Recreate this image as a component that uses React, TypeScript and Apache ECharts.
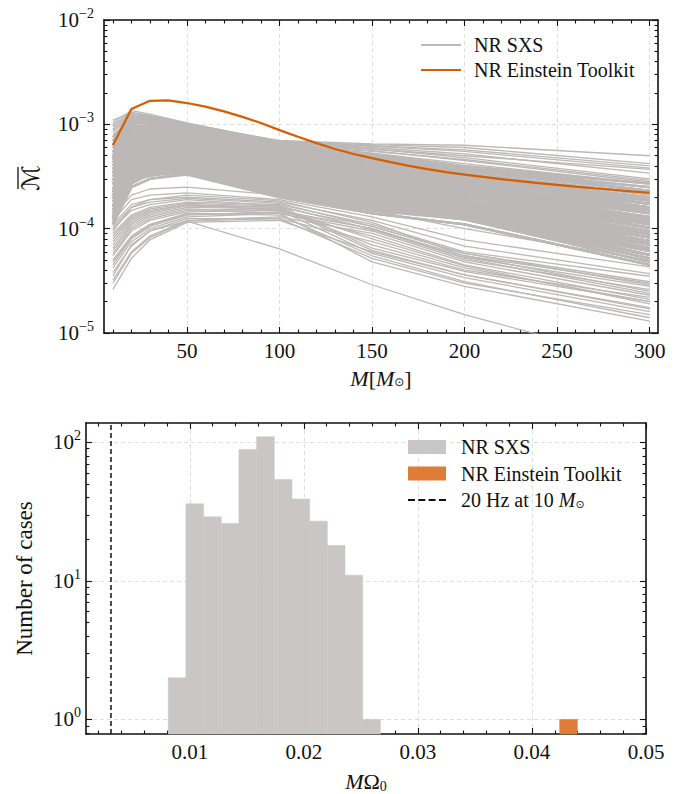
import React, { useEffect, useRef } from "react";
import * as echarts from "echarts";

// ---------- top panel data ----------
const massGrid = [10, 20, 30, 50, 100, 150, 200, 300];
const sxsUnit = 1e-5;
// NR SXS mismatch curves (units of 1e-5), values at massGrid
const sxsUpper: number[][] = [
  [95, 125, 120, 100, 70, 65, 63, 50],
  [90, 120, 115, 95, 68, 64, 60, 42],
  [85, 115, 112, 92, 66, 62, 57, 40],
  [100, 130, 122, 102, 69, 62, 55, 38],
  [80, 112, 108, 90, 64, 58, 50, 37],
  [105, 135, 125, 103, 68, 58, 48, 30],
  [110, 128, 118, 98, 66, 56, 45, 28],
  [70, 110, 110, 92, 63, 55, 46, 29],
  [88, 122, 116, 97, 64, 53, 42, 27],
  [95, 126, 119, 101, 67, 60, 52, 34],
];
const sxsCore: number[][] = [
  [75, 118, 115, 100, 65, 52, 40, 27],
  [69, 111, 109, 95, 59, 47, 36, 23],
  [64, 118, 109, 95, 62, 47, 34, 21.5],
  [64, 104, 103, 91, 59, 47, 36, 25],
  [59, 104, 103, 87, 56, 42, 32, 18.5],
  [54, 97, 97, 91, 59, 44.5, 32, 17.3],
  [54, 91, 92, 83, 53, 42, 32, 20],
  [50, 91, 87, 83, 50, 40, 29, 17.3],
  [46, 85, 92, 79, 48, 37.5, 29, 16],
  [46, 80, 82, 76, 48, 37.5, 29, 17.3],
  [43, 80, 82, 72, 46, 33.5, 26, 15],
  [40, 75, 78, 76, 48, 35.5, 27.5, 14],
  [40, 70, 73.5, 69, 44, 33.5, 26, 15],
  [37, 70, 70, 66, 44, 33.5, 27.5, 17.3],
  [34, 66, 73.5, 69, 42, 30, 23.4, 12],
  [34, 62, 66, 63, 40, 30, 23.4, 12.8],
  [31.5, 62, 62.5, 63, 38, 27, 21, 11],
  [29, 58, 66, 60, 40, 30, 24.7, 15],
  [29, 54, 59, 57, 36, 27, 21, 11],
  [26.5, 54, 56, 57, 34.5, 24, 18.8, 8.8],
  [24, 51, 59, 54.5, 36, 27, 22, 12.8],
  [24, 48, 52.5, 52, 33, 24, 18.8, 9.5],
  [22.5, 48, 50, 52, 31.5, 21.7, 17, 7.6],
  [21, 45, 52.5, 50, 33, 24, 20, 11],
  [21, 42, 47, 48, 30, 21.7, 17, 8.2],
  [19.5, 42, 44.5, 48, 28.5, 20.5, 16, 6.5],
  [18, 39.5, 47, 46, 30, 21.7, 18, 9.5],
  [18, 37, 42, 43.5, 27, 19.5, 15.2, 7],
  [16.5, 37, 40, 43.5, 25.5, 17.4, 13.6, 5.6],
  [15, 34.5, 42, 42, 27, 19.5, 16, 8.2],
  [15, 32, 37.5, 40, 24, 17.4, 13.6, 6.1],
  [14, 32, 35.5, 40, 23, 15.6, 12.3, 4.8],
  [13, 30, 37.5, 38, 24, 17.4, 14.4, 7],
  [13, 28.5, 33.5, 36, 22, 15.6, 12.3, 5.2],
  [12, 28.5, 32, 36, 21, 14, 11, 4.5],
  [11, 27, 33.5, 34.5, 22, 15.6, 13, 6.1],
  [11, 25, 30, 33, 20, 14, 11, 4.5],
  [64, 104, 109, 100, 65, 49.5, 38, 23],
  [75, 111, 103, 87, 53, 40, 29, 16],
  [54, 104, 103, 91, 62, 49.5, 38, 27],
  [46, 91, 97, 87, 56, 44.5, 34, 21.5],
  [40, 80, 87, 79, 50, 37.5, 29, 17.3],
  [34, 70, 78, 72, 46, 33.5, 24.7, 12.8],
  [29, 62, 70, 66, 42, 32, 24.7, 14],
  [24, 54, 62.5, 60, 38, 28.5, 22, 12],
  [21, 48, 56, 54.5, 34.5, 25.5, 20, 10.2],
  [18, 42, 50, 50, 31.5, 23, 18, 8.8],
  [15, 37, 44.5, 46, 28.5, 20.5, 16, 7.6],
  [13, 32, 40, 42, 25.5, 18.5, 14.4, 6.5],
  [11, 28.5, 35.5, 38, 23, 16.5, 13, 5.6],
  [59, 111, 103, 83, 50, 40, 32, 21.5],
  [50, 97, 92, 76, 46, 35.5, 29, 18.5],
  [43, 85, 82, 69, 42, 32, 26, 16],
  [37, 75, 73.5, 63, 38, 28.5, 23.4, 14],
  [31.5, 66, 66, 57, 34.5, 25.5, 21, 12],
  [26.5, 58, 59, 52, 31.5, 23, 18.8, 10.2],
  [22.5, 51, 52.5, 48, 28.5, 20.5, 17, 8.8],
  [19.5, 45, 47, 43.5, 25.5, 18.5, 15.2, 7.6],
  [16.5, 39.5, 42, 40, 23, 16.5, 13.6, 6.5],
  [14, 34.5, 37.5, 36, 21, 14.8, 12.3, 5.6],
  [69, 111, 103, 87, 56, 42, 30.5, 17.3],
  [59, 104, 103, 91, 56, 44.5, 34, 21.5],
  [50, 91, 97, 87, 56, 44.5, 36, 23],
  [43, 85, 87, 79, 50, 37.5, 29, 16],
  [37, 75, 82, 76, 48, 37.5, 30.5, 20],
  [31.5, 66, 73.5, 72, 46, 33.5, 24.7, 12.8],
  [26.5, 58, 66, 66, 42, 32, 26, 16],
  [22.5, 51, 59, 60, 38, 27, 20, 10.2],
  [19.5, 45, 52.5, 54.5, 34.5, 25.5, 22, 12],
  [16.5, 39.5, 47, 50, 31.5, 21.7, 16, 7],
  [14, 34.5, 42, 46, 28.5, 20.5, 17, 8.8],
  [12, 30, 37.5, 42, 25.5, 17.4, 13, 5.2],
  [11, 27, 33.5, 38, 23, 16.5, 13.6, 6.5],
  [54, 97, 92, 79, 48, 35.5, 26, 14],
  [46, 85, 82, 72, 44, 32, 23.4, 12],
  [40, 75, 73.5, 66, 40, 28.5, 21, 10.2],
  [34, 66, 66, 60, 36, 25.5, 18.8, 8.8],
  [29, 58, 59, 54.5, 33, 23, 17, 7.6],
  [24, 51, 52.5, 50, 30, 20.5, 15.2, 6.5],
  [21, 45, 47, 46, 27, 18.5, 13.6, 5.6],
  [18, 39.5, 42, 42, 24, 16.5, 12.3, 4.8],
  [15, 34.5, 37.5, 38, 22, 15.6, 12.3, 5.2],
  [64, 97, 97, 91, 62, 49.5, 38, 25],
  [46, 80, 87, 83, 56, 47, 36, 23],
  [34, 62, 70, 69, 46, 37.5, 30.5, 20],
  [24, 48, 56, 57, 38, 30, 24.7, 15],
  [18, 37, 44.5, 48, 31.5, 24, 20, 11],
  [13, 28.5, 35.5, 40, 25.5, 19.5, 16, 8.2],
  [11, 25, 30, 34.5, 22, 16.5, 13.6, 6.5],
  [21, 42, 47, 48, 28.5, 19.5, 14.4, 6.1],
  [29, 54, 59, 57, 34.5, 24, 18, 8.2],
  [40, 70, 73.5, 69, 42, 30, 22, 11],
  [54, 91, 92, 83, 50, 37.5, 27.5, 15],
  [15, 30, 33.5, 34.5, 20, 14, 11, 4.5],
  [13, 32, 40, 43.5, 27, 18.5, 14.4, 5.6],
  [69, 104, 103, 95, 65, 49.5, 38, 23],
  [36, 68, 71, 67, 43, 31, 23, 13],
  [27, 56, 63, 61, 39, 28, 21.5, 11.5],
  [20, 43, 50, 51, 32, 22.5, 17.5, 9],
  [16, 36, 43, 45, 28, 19.8, 15.5, 7.3],
  [12.5, 31, 38, 41, 25, 17.8, 14, 6.3],
  [48, 88, 90, 84, 54, 41, 31, 19],
];
const sxsLower: number[][] = [
  [2.6, 5.2, 7.8, 11.5, 12, 6, 3.6, 1.7],
  [3.2, 6, 8.5, 12, 13, 9, 4.8, 2.3],
  [3.8, 6.8, 9.5, 12.5, 12.5, 5.2, 3, 1.5],
  [4.2, 7.5, 10, 13, 14, 9.5, 5, 2.6],
  [5, 8.5, 11, 14, 13.5, 5.5, 3.1, 1.4],
  [5.5, 9.5, 12, 14.5, 15, 10, 5.3, 2.8],
  [6.2, 10.5, 13, 15.5, 14, 4.8, 2.8, 1.3],
  [7, 11.5, 14, 16.5, 16, 10.5, 5.8, 3.1],
  [8, 12.5, 15, 17, 15, 5.8, 3.4, 1.6],
  [9, 13.5, 16, 18, 17, 11, 6, 3.5],
  [10, 15, 17, 19, 16.5, 6.5, 3.9, 2],
  [11, 17, 19, 20, 18, 12, 6.8, 3.7],
  [6.5, 11, 13.5, 16, 15.5, 7, 4, 2.2],
  [4.5, 8, 10.5, 13.5, 14.5, 10, 5.5, 3],
  [7.5, 12, 14.5, 17, 16, 6.2, 3.6, 1.75],
  [12, 19, 21, 22, 19, 13, 7.8, 4.3],
  [13, 21, 24, 25, 21, 15, 10, 5],
  [9.5, 16, 19, 21, 18.5, 11.5, 5.5, 2.5],
  [3, 5.8, 8.2, 11.8, 12.5, 7.5, 4.2, 2],
  [4.8, 8.2, 10.8, 13.8, 14.2, 8.5, 4.5, 2.1],
  [5.8, 10, 12.5, 15, 15.5, 8, 4.4, 1.9],
  [8.5, 13, 15.5, 17.5, 16.5, 9.8, 5.2, 2.4],
  [10.5, 16, 18, 19.5, 17.5, 10.5, 5.8, 2.9],
  [3.5, 7, 9.5, 11.8, 6.4, 2.9, 1.5, 0.5],
];

// NR Einstein Toolkit curve
const etMass = [10, 20, 30, 40, 50, 60, 70, 80, 90, 100, 110, 120, 130, 140, 150, 160, 170, 180, 190, 200, 210, 220, 230, 240, 250, 260, 270, 280, 290, 300];
const etMismatch = [6.3e-4, 1.4e-3, 1.68e-3, 1.7e-3, 1.6e-3, 1.48e-3, 1.33e-3, 1.18e-3, 1.03e-3, 8.8e-4, 7.6e-4, 6.6e-4, 5.8e-4, 5.2e-4, 4.75e-4, 4.35e-4, 4.0e-4, 3.72e-4, 3.48e-4, 3.3e-4, 3.13e-4, 2.98e-4, 2.85e-4, 2.73e-4, 2.63e-4, 2.53e-4, 2.44e-4, 2.36e-4, 2.28e-4, 2.21e-4];

const topXMajor = [50, 100, 150, 200, 250, 300];
const topXMinor = [10, 20, 30, 40, 60, 70, 80, 90, 110, 120, 130, 140, 160, 170, 180, 190, 210, 220, 230, 240, 260, 270, 280, 290];
const topYMajor = [1e-5, 1e-4, 1e-3, 1e-2];
const topYMinor = [2e-5, 3e-5, 4e-5, 5e-5, 6e-5, 7e-5, 8e-5, 9e-5, 2e-4, 3e-4, 4e-4, 5e-4, 6e-4, 7e-4, 8e-4, 9e-4, 2e-3, 3e-3, 4e-3, 5e-3, 6e-3, 7e-3, 8e-3, 9e-3];

// ---------- bottom panel data ----------
const histEdges = [0.00811, 0.00966, 0.01121, 0.01276, 0.01431, 0.01586, 0.01741, 0.01896, 0.02051, 0.02206, 0.02361, 0.02516, 0.02671];
const sxsCounts = [2, 36, 29, 26, 89, 110, 54, 39, 27, 18, 11, 1];
const etEdges = [0.04243, 0.04398];
const etCounts = [1];
const f20Hz10Msun = 0.00309;
const botXMajor = [0.01, 0.02, 0.03, 0.04, 0.05];
const botXMinor = [0.002, 0.004, 0.006, 0.008, 0.012, 0.014, 0.016, 0.018, 0.022, 0.024, 0.026, 0.028, 0.032, 0.034, 0.036, 0.038, 0.042, 0.044, 0.046, 0.048];
const botYMajor = [1, 10, 100];
const botYMinor = [0.8, 0.9, 2, 3, 4, 5, 6, 7, 8, 9, 20, 30, 40, 50, 60, 70, 80, 90];

// ---------- styling ----------
const FONT = "Liberation Serif";
const INK = "#111111";
const GRID_C = "#d6d6d6";
const GRAY_LINE = "#bcb8b7";
const GRAY_BAR = "#cac6c5";
const ORANGE_LINE = "#d55e00";
const ORANGE_BAR = "#df7d36";

const TOP_X = [5.2, 304.5];
const TOP_Y = [0.99999e-5, 1.00001e-2];
const BOT_X = [0.0009, 0.05];
const BOT_Y = [0.785, 138];

const logLabel = (v: number) => {
  const e = Math.round(Math.log10(v));
  return `{b|10}{e|${e < 0 ? "\u2212" + -e : e}}`;
};
const logRich = {
  b: { fontSize: 21, fontFamily: FONT, color: INK },
  e: { fontSize: 14, fontFamily: FONT, color: INK, padding: [0, 0, 13, 0] },
};
const numLabel = (v: number) => `{n|${v}}`;
const numRich = { n: { fontSize: 21, fontFamily: FONT, color: INK } };

function axisSet(
  dim: "x" | "y",
  gridIndex: number,
  base: any,
  major: number[],
  minor: number[],
  label: any,
  nameCfg: any
) {
  const posA = dim === "x" ? "bottom" : "left";
  const posB = dim === "x" ? "top" : "right";
  const tickLine = { color: INK, width: 1.1 };
  const frame = { show: true, onZero: false, lineStyle: { color: INK, width: 1.6 } };
  const common = {
    gridIndex,
    ...base,
    axisLine: { show: false, onZero: false },
    axisLabel: { show: false },
    splitLine: { show: false },
    axisPointer: { show: false },
    silent: true,
  };
  return [
    {
      ...common,
      position: posA,
      axisLine: frame,
      axisTick: { show: true, inside: true, length: 6, lineStyle: tickLine, customValues: major },
      axisLabel: { show: true, customValues: major, fontFamily: FONT, fontSize: 21, color: INK, ...label },
      splitLine: { show: true, lineStyle: { color: GRID_C, width: 0.8, type: [4, 3] } },
      ...nameCfg,
    },
    {
      ...common,
      position: posA,
      axisTick: { show: true, inside: true, length: 3.5, lineStyle: tickLine, customValues: minor },
    },
    {
      ...common,
      position: posB,
      axisLine: frame,
      axisTick: { show: true, inside: true, length: 6, lineStyle: tickLine, customValues: major },
    },
    {
      ...common,
      position: posB,
      axisTick: { show: true, inside: true, length: 3.5, lineStyle: tickLine, customValues: minor },
    },
  ];
}

function buildOption() {
  const xAxes = [
    ...axisSet(
      "x",
      0,
      { type: "value", min: TOP_X[0], max: TOP_X[1] },
      topXMajor,
      topXMinor,
      { formatter: numLabel, rich: numRich, margin: 7 },
      {
        name: "{i|M}[{i|M}{s|\u2299}]",
        nameLocation: "middle",
        nameGap: 34,
        nameTextStyle: {
          color: INK,
          fontFamily: FONT,
          fontSize: 22,
          rich: {
            i: { fontStyle: "italic", fontSize: 22, fontFamily: FONT, color: INK },
            s: { fontSize: 12, lineHeight: 12, fontFamily: "DejaVu Sans", color: INK, padding: [8, 0, 0, 0] },
          },
        },
      }
    ),
    ...axisSet(
      "x",
      1,
      { type: "value", min: BOT_X[0], max: BOT_X[1] },
      botXMajor,
      botXMinor,
      { formatter: numLabel, rich: numRich, margin: 7 },
      {
        name: "{i|M}\u03a9{s|0}",
        nameLocation: "middle",
        nameGap: 36,
        nameTextStyle: {
          color: INK,
          fontFamily: FONT,
          fontSize: 22,
          rich: {
            i: { fontStyle: "italic", fontSize: 22, fontFamily: FONT, color: INK },
            s: { fontSize: 14, lineHeight: 14, fontFamily: FONT, color: INK, padding: [10, 0, 0, 0] },
          },
        },
      }
    ),
  ];
  const yAxes = [
    ...axisSet(
      "y",
      0,
      { type: "log", logBase: 10, min: TOP_Y[0], max: TOP_Y[1] },
      topYMajor,
      topYMinor,
      { formatter: logLabel, rich: logRich, margin: 10 },
      {}
    ),
    ...axisSet(
      "y",
      1,
      { type: "log", logBase: 10, min: BOT_Y[0], max: BOT_Y[1] },
      botYMajor,
      botYMinor,
      { formatter: logLabel, rich: logRich, margin: 5 },
      {
        name: "Number of cases",
        nameLocation: "middle",
        nameGap: 50,
        nameTextStyle: { color: INK, fontFamily: FONT, fontSize: 23 },
      }
    ),
  ];

  const series: any[] = [];
  const addGray = (curve: number[], width: number) =>
    series.push({
      type: "line",
      name: "NR SXS",
      xAxisIndex: 0,
      yAxisIndex: 0,
      data: massGrid.map((m, i) => [m, curve[i] * sxsUnit]),
      symbol: "none",
      showSymbol: false,
      clip: true,
      silent: true,
      lineStyle: { color: GRAY_LINE, width },
      itemStyle: { color: GRAY_LINE },
      emphasis: { disabled: true },
      z: 2,
    });
  sxsUpper.forEach((c) => addGray(c, 1.3));
  sxsCore.forEach((c) => addGray(c, 2.4));
  sxsLower.forEach((c) => addGray(c, 1.3));
  series.push({
    type: "line",
    name: "NR Einstein Toolkit",
    xAxisIndex: 0,
    yAxisIndex: 0,
    data: etMass.map((m, i) => [m, etMismatch[i]]),
    symbol: "none",
    showSymbol: false,
    clip: true,
    silent: true,
    lineStyle: { color: ORANGE_LINE, width: 2.2 },
    itemStyle: { color: ORANGE_LINE },
    emphasis: { disabled: true },
    z: 5,
  });

  const histRender = (params: any, api: any) => {
    const lo = api.coord([api.value(0), api.value(2)]);
    const hi = api.coord([api.value(1), BOT_Y[0]]);
    return {
      type: "rect",
      shape: { x: lo[0], y: lo[1], width: hi[0] - lo[0], height: hi[1] - lo[1] },
      style: { fill: api.visual("color"), stroke: api.visual("color"), lineWidth: 0.5 },
    };
  };
  series.push({
    type: "custom",
    name: "SXS-hist",
    xAxisIndex: 4,
    yAxisIndex: 4,
    itemStyle: { color: GRAY_BAR },
    encode: { x: [0, 1], y: 2 },
    data: sxsCounts.map((c, i) => [histEdges[i], histEdges[i + 1], c]),
    renderItem: histRender,
    silent: true,
    z: 2,
  });
  series.push({
    type: "custom",
    name: "ET-hist",
    xAxisIndex: 4,
    yAxisIndex: 4,
    itemStyle: { color: ORANGE_BAR },
    encode: { x: [0, 1], y: 2 },
    data: etCounts.map((c, i) => [etEdges[i], etEdges[i + 1], c]),
    renderItem: histRender,
    silent: true,
    z: 2,
  });
  series.push({
    type: "line",
    name: "f20",
    xAxisIndex: 4,
    yAxisIndex: 4,
    data: [
      [f20Hz10Msun, BOT_Y[0]],
      [f20Hz10Msun, BOT_Y[1]],
    ],
    symbol: "none",
    showSymbol: false,
    silent: true,
    lineStyle: { color: INK, width: 1.5, type: [5, 3] },
    itemStyle: { color: INK },
    emphasis: { disabled: true },
    z: 4,
  });

  const legendRich = {
    t: { fontSize: 20, fontFamily: FONT, color: INK, lineHeight: 22 },
    i: { fontStyle: "italic", fontSize: 20, fontFamily: FONT, color: INK },
    s: { fontSize: 11, lineHeight: 11, fontFamily: "DejaVu Sans", color: INK, padding: [8, 0, 0, 0] },
  };
  const legendText = { fontFamily: FONT, fontSize: 20, color: INK, lineHeight: 22, rich: legendRich };
  const legendNames: Record<string, string> = {
    "NR SXS": "{t|NR SXS}",
    "NR Einstein Toolkit": "{t|NR Einstein Toolkit}",
    "SXS-hist": "{t|NR SXS}",
    "ET-hist": "{t|NR Einstein Toolkit}",
    f20: "{t|20 Hz at 10 }{i|M}{s|\u2299}",
  };
  const lineIcon = "path://M0,0h40v2h-40z";
  const dashIcon = "path://M0,0h7v2h-7z M10.3,0h7v2h-7z M20.6,0h7v2h-7z M31,0h7v2h-7z";

  return {
    animation: false,
    textStyle: { fontFamily: FONT },
    grid: [
      { left: 104, top: 20, width: 554, height: 313 },
      { left: 86, top: 423, width: 560, height: 315 },
    ],
    xAxis: xAxes,
    yAxis: yAxes,
    legend: [
      {
        data: [
          { name: "NR SXS", icon: lineIcon },
          { name: "NR Einstein Toolkit", icon: lineIcon },
        ],
        orient: "vertical",
        left: 421,
        top: 34,
        padding: 0,
        itemWidth: 40,
        itemHeight: 2,
        itemGap: 3,
        selectedMode: false,
        formatter: (name: string) => legendNames[name] || name,
        textStyle: { ...legendText, padding: [0, 0, 0, 8] },
      },
      {
        data: [
          { name: "SXS-hist", icon: "rect", itemStyle: { color: GRAY_BAR } },
          { name: "ET-hist", icon: "rect", itemStyle: { color: ORANGE_BAR } },
          { name: "f20", icon: dashIcon, itemStyle: { color: INK } },
        ],
        orient: "vertical",
        left: 408,
        top: 436,
        padding: 0,
        itemWidth: 38,
        itemHeight: 14,
        itemGap: 4.5,
        selectedMode: false,
        formatter: (name: string) => legendNames[name] || name,
        textStyle: { ...legendText, padding: [0, 0, 0, 10] },
      },
    ],
    graphic: [
      {
        type: "group",
        x: 29,
        y: 178,
        rotation: Math.PI / 2,
        silent: true,
        children: [
          {
            type: "text",
            x: 0,
            y: 2,
            style: {
              text: "\u2133",
              fontSize: 24,
              fontFamily: "DejaVu Sans",
              align: "center",
              verticalAlign: "middle",
              fill: INK,
            },
          },
          {
            type: "line",
            shape: { x1: -11, y1: -11, x2: 11, y2: -11 },
            style: { stroke: INK, lineWidth: 1.3 },
          },
        ],
      },
    ],
    series,
  };
}

export default function App() {
  const ref = useRef<HTMLDivElement>(null);
  useEffect(() => {
    if (!ref.current) return;
    const chart = echarts.init(ref.current, null, { renderer: "svg" });
    chart.setOption(buildOption() as any);
    return () => chart.dispose();
  }, []);
  return (
    <div
      ref={ref}
      style={{ position: "fixed", left: 0, top: 0, width: 683, height: 794, background: "#ffffff" }}
    />
  );
}
